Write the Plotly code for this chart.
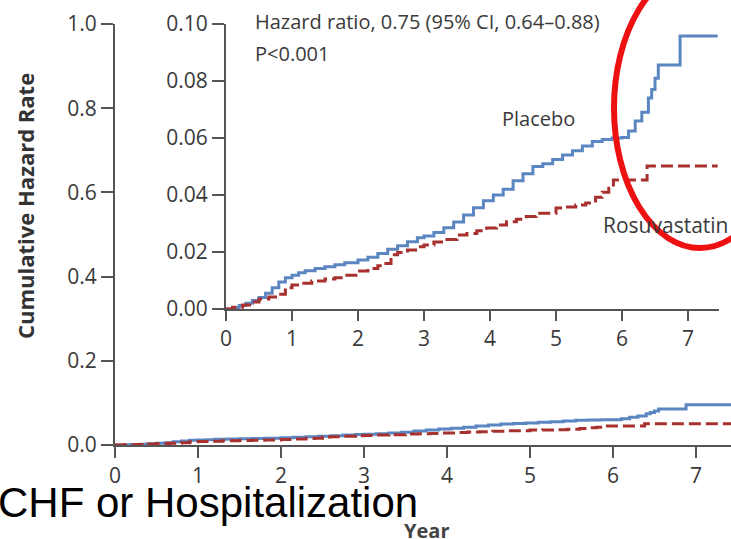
import plotly.graph_objects as go

W, H = 731, 539

# ---- data ----
placebo_t = [0, 0.1, 0.2, 0.3, 0.4, 0.5, 0.6, 0.7, 0.8, 0.9, 1.0, 1.1, 1.2, 1.35, 1.5,
             1.65, 1.8, 2.0, 2.15, 2.3, 2.45, 2.6, 2.75, 2.9, 3.0, 3.15, 3.3, 3.45, 3.6,
             3.75, 3.9, 4.05, 4.2, 4.35, 4.5, 4.65, 4.8, 4.95, 5.1, 5.25, 5.4, 5.55, 5.7,
             5.85, 6.0, 6.1, 6.2, 6.3, 6.4, 6.45, 6.5, 6.55, 6.88, 7.45]
placebo_v = [0, 0.0005, 0.0012, 0.002, 0.003, 0.004, 0.0055, 0.0075, 0.0095, 0.011, 0.0118,
             0.0127, 0.0134, 0.0142, 0.0148, 0.0155, 0.0162, 0.0172, 0.0182, 0.0195, 0.021,
             0.0222, 0.0236, 0.025, 0.0256, 0.0268, 0.0285, 0.0305, 0.033, 0.0355, 0.038,
             0.040, 0.042, 0.045, 0.0475, 0.050, 0.051, 0.0525, 0.054, 0.0555, 0.0572,
             0.0588, 0.0595, 0.060, 0.0602, 0.0625, 0.066, 0.069, 0.074, 0.077, 0.081,
             0.0856, 0.0958, 0.0958]

rosu_t = [0, 0.1, 0.25, 0.4, 0.5, 0.65, 0.8, 0.9, 1.0, 1.15, 1.3, 1.5, 1.65, 1.8, 2.0, 2.15,
          2.3, 2.4, 2.5, 2.6, 2.75, 2.9, 3.0, 3.15, 3.3, 3.5, 3.65, 3.8, 3.95, 4.1, 4.25,
          4.4, 4.55, 4.7, 4.85, 5.0, 5.15, 5.3, 5.45, 5.6, 5.7, 5.8, 5.87, 6.38, 7.45]
rosu_v = [0, 0.0006, 0.0014, 0.0025, 0.0035, 0.0042, 0.0052, 0.0075, 0.0084, 0.009, 0.0098,
          0.0105, 0.011, 0.0118, 0.0133, 0.0142, 0.0152, 0.016, 0.019, 0.0198, 0.0207,
          0.0218, 0.0225, 0.0235, 0.0244, 0.026, 0.0265, 0.0275, 0.0284, 0.0295, 0.0306,
          0.0315, 0.0325, 0.0336, 0.0336, 0.0354, 0.0358, 0.0365, 0.0372, 0.0392, 0.041,
          0.0424, 0.0453, 0.0502, 0.0502]

main_yticks = [0.0, 0.2, 0.4, 0.6, 0.8, 1.0]
main_yticklabels = ["0.0", "0.2", "0.4", "0.6", "0.8", "1.0"]
inset_yticks = [0.0, 0.02, 0.04, 0.06, 0.08, 0.10]
inset_yticklabels = ["0.00", "0.02", "0.04", "0.06", "0.08", "0.10"]
xticks = [0, 1, 2, 3, 4, 5, 6, 7]

BLUE = "#5b86c1"
RED = "#a8302e"
AX = "#555555"
TXT = "#3a3a3a"
FONT = "Open Sans"


def px(x):
    return x / W


def py(y):
    return 1 - y / H


fig = go.Figure()
for xa, ya in [("x", "y"), ("x2", "y2")]:
    fig.add_trace(go.Scatter(x=placebo_t, y=placebo_v, mode="lines", line_shape="hv",
                             line=dict(color=BLUE, width=3), xaxis=xa, yaxis=ya,
                             showlegend=False, hoverinfo="skip"))
    fig.add_trace(go.Scatter(x=rosu_t, y=rosu_v, mode="lines", line_shape="hv",
                             line=dict(color=RED, width=3, dash="12px,5px"), xaxis=xa, yaxis=ya,
                             showlegend=False, hoverinfo="skip"))

axis_common = dict(showgrid=False, zeroline=False, showline=True, linecolor=AX, linewidth=2,
                   ticks="outside", tickcolor=AX, tickwidth=2,
                   tickfont=dict(family=FONT, size=21, color=TXT))

fig.update_layout(
    width=W, height=H, margin=dict(l=0, r=0, t=0, b=0, autoexpand=False),
    paper_bgcolor="white", plot_bgcolor="rgba(0,0,0,0)",
    xaxis=dict(domain=[px(115), px(731)], range=[0, (731 - 115) / 83.0], anchor="y",
               tickvals=xticks, ticklen=11, **axis_common),
    yaxis=dict(domain=[py(445), py(24)], range=[0, 1.0], anchor="x",
               tickvals=main_yticks, ticktext=main_yticklabels, ticklen=12, **axis_common),
    xaxis2=dict(domain=[px(226), px(719)], range=[0, (719 - 226) / 66.0], anchor="y2",
                tickvals=xticks, ticklen=10, **axis_common),
    yaxis2=dict(domain=[py(309), py(24)], range=[0, 0.10], anchor="x2",
                tickvals=inset_yticks, ticktext=inset_yticklabels, ticklen=12, **axis_common),
)

ann = [
    dict(text="Hazard ratio, 0.75 (95% CI, 0.64\u20130.88)", x=px(253), y=py(21),
         xanchor="left", yanchor="middle", font=dict(family=FONT, size=20, color=TXT)),
    dict(text="P<0.001", x=px(253), y=py(54), xanchor="left", yanchor="middle",
         font=dict(family=FONT, size=20, color=TXT)),
    dict(text="Placebo", x=px(538), y=py(119), xanchor="center", yanchor="middle",
         font=dict(family=FONT, size=20, color=TXT)),
    dict(text="Rosuvastatin", x=px(601), y=py(225), xanchor="left", yanchor="middle",
         font=dict(family=FONT, size=21, color=TXT)),
    dict(text="<b>Cumulative Hazard Rate</b>", x=px(25), y=py(206), textangle=-90,
         xanchor="center", yanchor="middle", font=dict(family=FONT, size=22, color="#333333")),
    dict(text="<b>Year</b>", x=px(426), y=py(530), xanchor="center", yanchor="middle",
         font=dict(family=FONT, size=20, color="#444444")),
    dict(text="CHF or Hospitalization", x=px(-4), y=py(503), xanchor="left", yanchor="middle",
         font=dict(family="Liberation Sans", size=42, color="black")),
]
for a in ann:
    a.update(xref="paper", yref="paper", showarrow=False)
fig.update_layout(annotations=ann)

fig.add_shape(type="circle", xref="paper", yref="paper",
              x0=px(614), x1=px(786), y0=py(248), y1=py(-32),
              line=dict(color="#ee1111", width=6))

fig.write_html("out.html")
